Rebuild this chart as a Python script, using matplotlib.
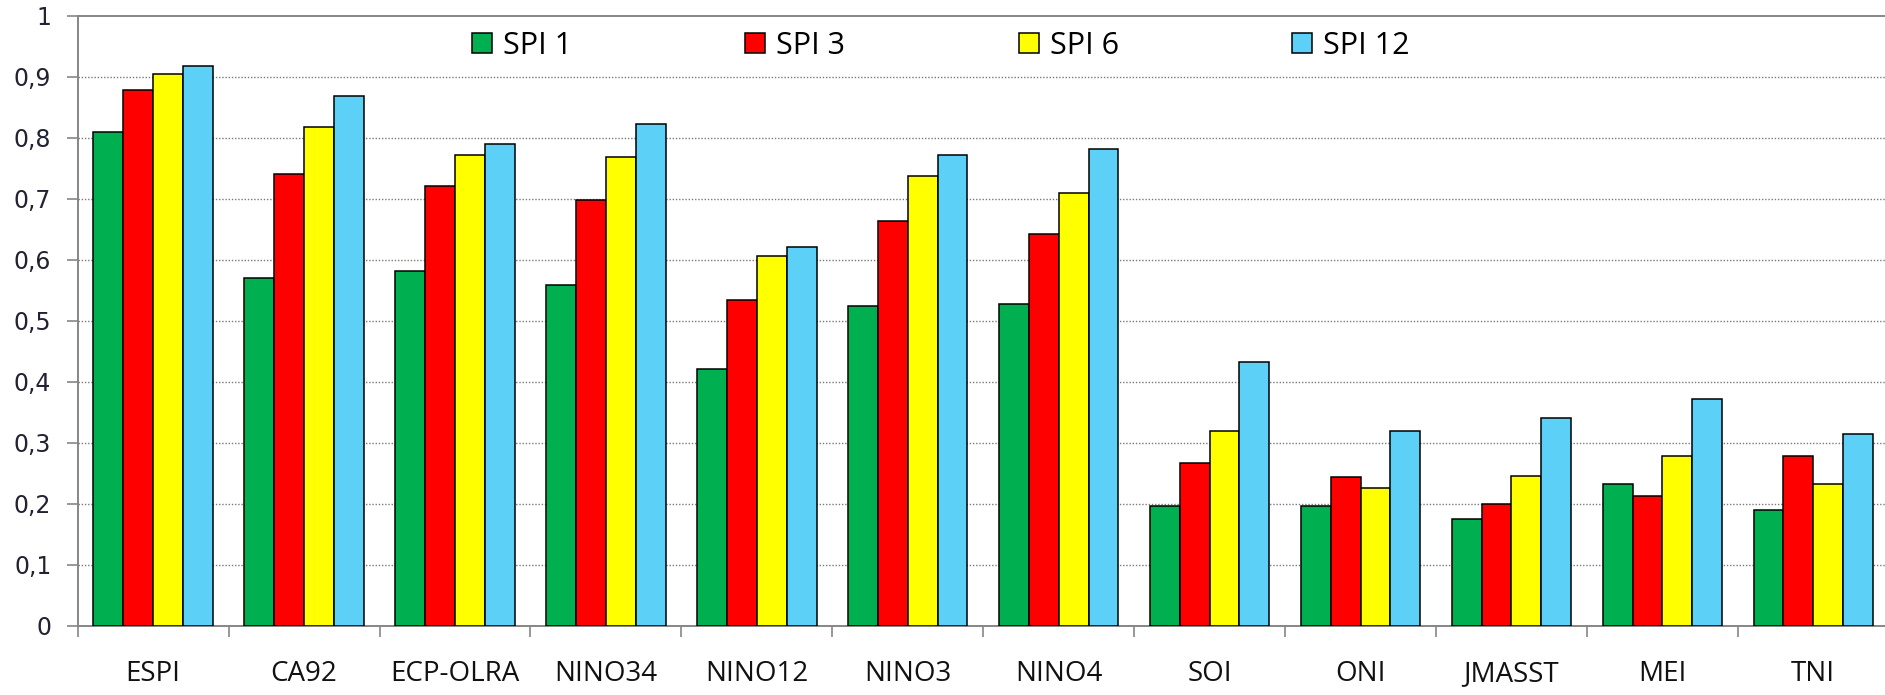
import matplotlib

matplotlib.use("Agg")
import matplotlib.pyplot as plt
import numpy as np
from matplotlib.patches import Patch
from matplotlib.ticker import FixedLocator, FuncFormatter

# Korelasyon değerleri: iklim indisleri x SPI zaman ölçekleri
indices = ["ESPI", "CA92", "ECP-OLRA", "NINO34", "NINO12", "NINO3",
           "NINO4", "SOI", "ONI", "JMASST", "MEI", "TNI"]
spi1 = [0.809, 0.570, 0.581, 0.558, 0.421, 0.524, 0.527, 0.197, 0.197, 0.175, 0.232, 0.189]
spi3 = [0.878, 0.741, 0.721, 0.698, 0.534, 0.664, 0.642, 0.266, 0.243, 0.200, 0.212, 0.278]
spi6 = [0.905, 0.818, 0.772, 0.769, 0.606, 0.738, 0.709, 0.319, 0.226, 0.246, 0.278, 0.232]
spi12 = [0.917, 0.868, 0.789, 0.823, 0.621, 0.771, 0.781, 0.433, 0.319, 0.340, 0.371, 0.314]
series_names = ["SPI 1", "SPI 3", "SPI 6", "SPI 12"]
colors = ["#00B050", "#FF0000", "#FFFF00", "#5DD0F8"]

narrow = ["Open Sans", "DejaVu Sans"]
axis_gray = "#868686"


def comma_fmt(v, _pos):
    if abs(v) < 1e-9:
        return "0"
    if abs(v - 1) < 1e-9:
        return "1"
    return f"{v:.1f}".replace(".", ",")


def main() -> None:
    fig = plt.figure(figsize=(18.85, 6.95), dpi=100)
    ax = fig.add_axes([0.0412, 0.0997, 0.9608, 0.8777])

    x = np.arange(len(indices)) + 0.5
    width = 0.1977
    all_series = [spi1, spi3, spi6, spi12]
    for k, (vals, name, col) in enumerate(zip(all_series, series_names, colors)):
        ax.bar(x + (k - 1.5) * width, vals, width, color=col,
               edgecolor="black", linewidth=1.1, label=name, zorder=3)

    ax.set_xlim(0, len(indices))
    ax.set_ylim(0, 1)

    # y ekseni: virgüllü ondalıklar
    ax.yaxis.set_major_locator(FixedLocator(np.round(np.arange(0, 1.01, 0.1), 1)))
    ax.yaxis.set_major_formatter(FuncFormatter(comma_fmt))
    ax.tick_params(axis="y", direction="out", length=8, width=1.2,
                   color=axis_gray, pad=11, labelsize=17, labelcolor="#222233")

    # x ekseni: etiketler kategori ortasında, çentikler sınırlarda
    ax.set_xticks(x)
    ax.set_xticklabels(indices, fontfamily=narrow, fontsize=20)
    ax.set_xticks(np.arange(len(indices) + 1), minor=True)
    ax.tick_params(axis="x", which="major", length=0, pad=25, labelcolor="#111111")
    ax.tick_params(axis="x", which="minor", direction="out", length=8,
                   width=1.2, color=axis_gray)

    for yv in np.arange(0.1, 0.95, 0.1):
        ax.axhline(yv, color="#7a7a7a", linewidth=1.0,
                   linestyle=(0, (1, 1.3)), zorder=1)

    for side in ["left", "bottom", "top", "right"]:
        ax.spines[side].set_color(axis_gray)
        ax.spines[side].set_linewidth(1.4)

    # lejant öğeleri eşit aralıklı yerleştirilir
    legend_x = [472, 745, 1019, 1292]
    for name, col, lx in zip(series_names, colors, legend_x):
        h = Patch(facecolor=col, edgecolor="black", linewidth=1.1)
        fig.legend([h], [name], loc="center left",
                   bbox_to_anchor=(lx / 1885, 1 - 45.7 / 695),
                   frameon=False, prop={"family": narrow, "size": 22},
                   handlelength=0.66, handleheight=0.66, handletextpad=0.35,
                   borderpad=0, borderaxespad=0)

    plt.savefig("out.png", dpi=100)


if __name__ == "__main__":
    main()
